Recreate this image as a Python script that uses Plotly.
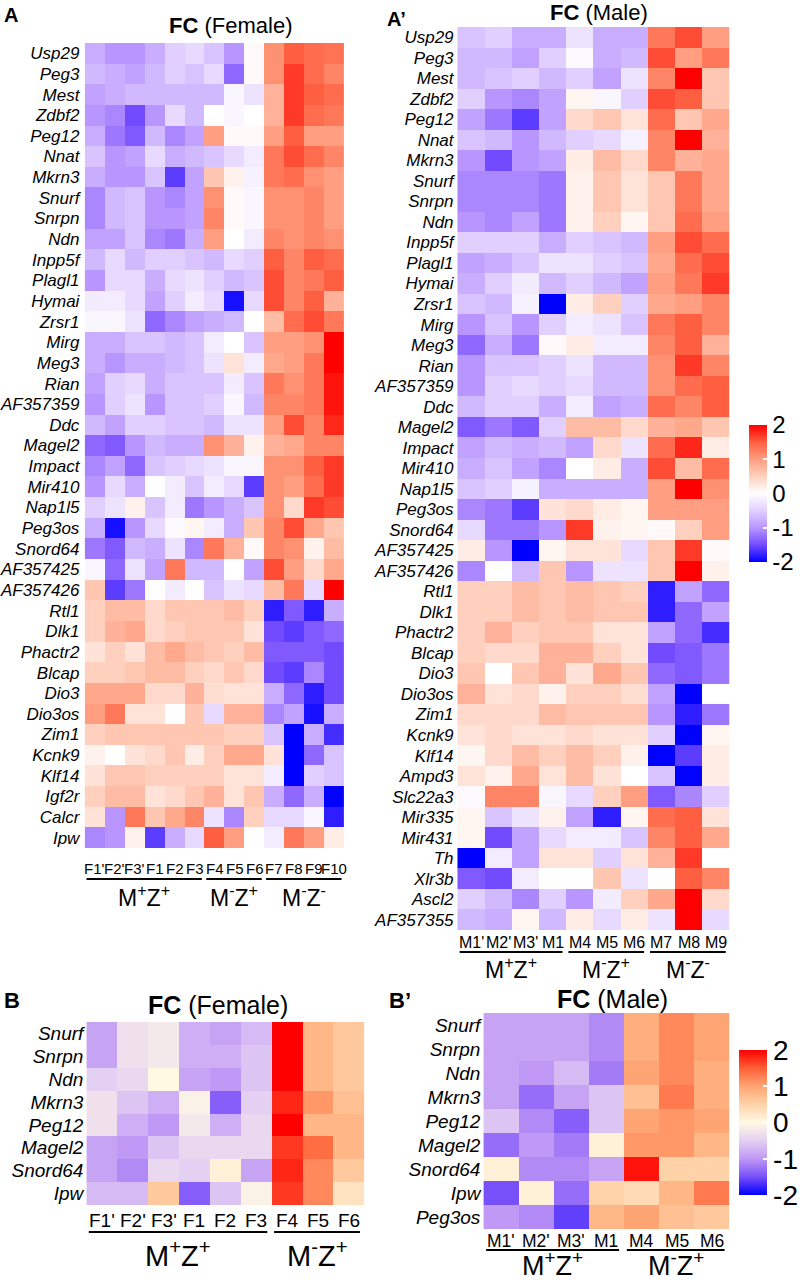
import plotly.graph_objects as go

W, H = 803, 1280
FONT = "Liberation Sans, Arial, sans-serif"

# ---- data ----
genes_a = ["Usp29", "Peg3", "Mest", "Zdbf2", "Peg12", "Nnat", "Mkrn3", "Snurf", "Snrpn", "Ndn",
           "Inpp5f", "Plagl1", "Hymai", "Zrsr1", "Mirg", "Meg3", "Rian", "AF357359", "Ddc",
           "Magel2", "Impact", "Mir410", "Nap1l5", "Peg3os", "Snord64", "AF357425", "AF357426",
           "Rtl1", "Dlk1", "Phactr2", "Blcap", "Dio3", "Dio3os", "Zim1", "Kcnk9", "Klf14",
           "Igf2r", "Calcr", "Ipw"]
samples_a = ["F1'", "F2'", "F3'", "F1", "F2", "F3", "F4", "F5", "F6", "F7", "F8", "F9", "F10"]
z_a = [
    [-0.8, -1.0, -1.0, -0.8, -0.5, -0.4, -0.6, -1.0, 0.05, 1.1, 1.5, 1.4, 1.35],
    [-0.7, -0.8, -0.9, -0.7, -0.5, -0.6, -0.4, -1.3, 0.05, 1.1, 1.7, 1.4, 1.2],
    [-0.9, -0.8, -0.7, -0.7, -0.7, -0.7, -0.7, -0.1, -0.3, 0.8, 1.7, 1.5, 1.4],
    [-1.0, -1.1, -1.5, -1.0, -0.4, -0.7, 0.0, -0.1, 0.0, 0.8, 1.7, 1.4, 1.3],
    [-0.8, -1.2, -1.4, -0.7, -1.1, -0.9, 1.0, 0.05, 0.05, 1.0, 1.5, 1.0, 1.0],
    [-0.6, -1.0, -0.9, -0.4, -0.8, -0.7, -0.6, -0.4, -0.2, 1.3, 1.6, 1.4, 1.2],
    [-0.8, -1.0, -1.0, -0.6, -1.6, -0.9, 0.6, 0.15, -0.15, 1.3, 1.4, 1.1, 1.0],
    [-1.1, -0.7, -0.6, -1.0, -1.1, -0.9, 1.1, 0.05, -0.1, 1.1, 1.1, 1.2, 1.0],
    [-1.1, -0.7, -0.6, -1.0, -1.0, -0.9, 1.2, 0.05, -0.1, 1.1, 1.1, 1.2, 1.0],
    [-0.9, -0.9, -0.6, -1.1, -1.2, -0.8, 1.0, 0.0, -0.2, 1.2, 1.1, 1.2, 1.1],
    [-0.7, -0.4, -0.7, -0.5, -0.5, -0.6, -0.7, -0.4, -0.5, 1.5, 1.2, 1.5, 1.4],
    [-1.0, -0.4, -0.4, -0.8, -0.4, -0.3, -0.5, -0.7, -0.6, 1.6, 1.2, 1.3, 1.5],
    [-0.2, -0.2, -0.4, -0.9, -0.5, -0.2, -0.4, -1.9, -0.4, 1.6, 1.2, 1.5, 0.8],
    [-0.1, -0.1, -0.3, -1.3, -1.1, -0.9, -0.8, -0.7, 0.0, 0.7, 1.4, 1.6, 1.3],
    [-0.8, -0.8, -0.6, -0.6, -0.7, -0.6, -0.2, 0.0, -0.6, 1.0, 1.0, 1.1, 2.0],
    [-0.8, -1.0, -0.8, -0.8, -0.7, -0.6, -0.3, 0.3, -0.2, 0.9, 1.0, 1.3, 2.0],
    [-0.9, -0.5, -0.4, -0.8, -0.6, -0.6, -0.6, -0.2, -0.6, 1.3, 1.1, 1.3, 1.9],
    [-1.0, -0.5, -0.3, -1.0, -0.6, -0.6, -0.5, -0.1, -0.7, 1.2, 1.2, 1.3, 1.9],
    [-0.7, -0.9, -0.5, -0.5, -0.6, -0.6, -0.7, -0.3, -0.3, 1.0, 1.6, 1.2, 1.8],
    [-1.3, -1.4, -1.0, -0.7, -0.8, -0.8, 1.1, 0.8, 0.15, 0.8, 0.9, 1.2, 1.2],
    [-1.1, -0.9, -1.3, -0.6, -0.5, -0.4, -0.3, -0.1, -0.1, 1.1, 1.1, 1.5, 1.7],
    [-1.0, -0.4, -0.8, 0.0, -0.2, -0.6, -0.2, -0.4, -1.6, 1.1, 1.0, 1.4, 1.7],
    [-0.5, -0.3, 0.15, -0.6, -0.2, -1.2, -1.0, -0.8, -0.6, 1.1, 0.4, 1.7, 1.6],
    [-0.8, -1.9, -1.0, -0.4, -0.05, 0.1, -0.2, -0.8, 0.6, 1.2, 1.6, 0.9, 0.6],
    [-1.2, -1.4, -0.7, -0.8, -0.3, -1.1, 1.3, 0.8, 0.05, 1.2, 1.1, 0.15, 0.7],
    [-0.1, -1.3, -0.3, -0.9, 1.3, -0.7, -0.7, 0.0, -0.9, 1.6, 1.0, 0.4, 0.9],
    [0.6, -1.6, -1.2, 0.0, -0.2, 0.0, -0.6, -0.3, -0.4, 0.7, 1.3, -0.4, 2.0],
    [0.5, 0.7, 0.7, 0.4, 0.6, 0.6, 0.6, 0.7, 0.5, -1.8, -1.4, -1.8, -0.8],
    [0.5, 0.8, 0.9, 0.4, 0.5, 0.6, 0.6, 0.6, 0.3, -1.5, -1.6, -1.4, -1.3],
    [0.3, 0.5, 0.3, 0.7, 0.9, 0.7, 0.6, 0.5, 0.7, -1.4, -1.4, -1.4, -1.5],
    [0.5, 0.5, 0.6, 0.7, 0.7, 0.5, 0.4, 0.6, 0.4, -1.5, -1.6, -1.1, -1.5],
    [0.9, 0.9, 0.9, 0.4, 0.4, 0.8, 0.35, 0.3, 0.3, -0.8, -1.3, -1.8, -1.5],
    [1.0, 1.3, 0.3, 0.3, 0.0, 0.6, -0.4, 0.8, 0.8, -1.1, -0.9, -1.9, -0.8],
    [0.5, 0.6, 0.6, 0.6, 0.6, 0.6, 0.6, 0.5, 0.5, -0.6, -2.0, -0.8, -1.7],
    [0.15, 0.0, 0.3, 0.4, 0.6, 0.2, 0.5, 0.9, 0.9, 0.3, -2.0, -1.3, -0.6],
    [0.3, 0.6, 0.6, 0.5, 0.5, 0.5, 0.5, 0.3, 0.3, -0.2, -2.0, -0.5, -0.6],
    [0.5, 0.7, 0.7, 0.3, 0.4, 0.6, 0.8, 0.3, 0.6, -0.8, -1.3, -0.8, -2.0],
    [0.3, -1.0, 1.3, 0.6, 0.9, 1.2, -0.3, -1.1, 0.5, -0.4, -0.4, -0.1, -1.8],
    [-1.1, -1.0, 0.15, -1.6, -0.8, -0.4, 1.5, 1.0, 0.0, -0.2, 1.3, 1.0, 0.2],
]
groups_a = [("M<sup>+</sup>Z<sup>+</sup>", 0, 5), ("M<sup>-</sup>Z<sup>+</sup>", 6, 8),
            ("M<sup>-</sup>Z<sup>-</sup>", 9, 12)]

genes_a2 = ["Usp29", "Peg3", "Mest", "Zdbf2", "Peg12", "Nnat", "Mkrn3", "Snurf", "Snrpn", "Ndn",
            "Inpp5f", "Plagl1", "Hymai", "Zrsr1", "Mirg", "Meg3", "Rian", "AF357359", "Ddc",
            "Magel2", "Impact", "Mir410", "Nap1l5", "Peg3os", "Snord64", "AF357425", "AF357426",
            "Rtl1", "Dlk1", "Phactr2", "Blcap", "Dio3", "Dio3os", "Zim1", "Kcnk9", "Klf14",
            "Ampd3", "Slc22a3", "Mir335", "Mir431", "Th", "Xlr3b", "Ascl2", "AF357355"]
samples_a2 = ["M1'", "M2'", "M3'", "M1", "M4", "M5", "M6", "M7", "M8", "M9"]
z_a2 = [
    [-0.6, -0.5, -0.8, -0.8, -0.3, -0.8, -0.8, 1.3, 1.6, 1.0],
    [-0.7, -0.7, -0.9, -0.5, -0.05, -0.8, -0.7, 1.6, 1.0, 1.3],
    [-0.7, -0.6, -0.5, -0.7, -0.5, -0.9, -0.3, 1.2, 2.0, 0.6],
    [-0.5, -1.0, -1.1, -0.9, 0.1, -0.1, -0.5, 1.6, 1.5, 0.6],
    [-0.9, -1.2, -1.6, -0.9, 0.4, 0.6, 0.3, 1.4, 0.6, 0.9],
    [-0.6, -0.7, -1.0, -0.7, -0.5, -0.4, -0.15, 1.2, 2.0, 0.8],
    [-1.0, -1.5, -1.0, -0.9, 0.2, 0.7, 0.4, 1.2, 0.8, 0.9],
    [-1.1, -1.1, -1.1, -1.2, 0.15, 0.6, 0.3, 0.6, 1.3, 0.9],
    [-1.1, -1.1, -1.1, -1.2, 0.15, 0.6, 0.3, 0.6, 1.3, 0.9],
    [-1.0, -1.1, -0.9, -1.2, 0.15, 0.5, 0.1, 0.6, 1.4, 1.0],
    [-0.5, -0.5, -0.5, -0.8, -0.5, -0.6, -0.7, 1.0, 1.6, 1.4],
    [-0.9, -0.8, -0.6, -0.3, -0.3, -0.5, -0.6, 0.9, 1.4, 1.6],
    [-0.8, -0.5, -0.2, -0.7, -0.5, -0.7, -0.9, 1.0, 1.3, 1.7],
    [-0.6, -0.7, -0.15, -2.0, 0.2, 0.5, -0.5, 0.9, 1.0, 1.2],
    [-1.0, -0.6, -1.0, -0.5, -0.2, -0.3, -0.6, 1.3, 1.5, 1.2],
    [-1.3, -0.8, -1.2, 0.05, 0.2, -0.2, -0.2, 1.2, 1.5, 0.8],
    [-1.0, -0.6, -0.6, -0.5, -0.3, -0.7, -0.7, 1.1, 1.7, 1.2],
    [-1.0, -0.5, -0.4, -0.5, -0.4, -0.7, -0.7, 1.1, 1.4, 1.5],
    [-0.7, -0.5, -0.5, -0.8, -0.2, -0.9, -0.8, 1.4, 1.2, 1.5],
    [-1.4, -1.2, -1.4, -0.5, 0.7, 0.7, 0.4, 0.8, 0.9, 0.6],
    [-0.9, -0.7, -0.8, -0.7, -0.9, 0.4, -0.3, 1.4, 1.8, 0.2],
    [-0.8, -0.6, -0.9, -1.1, 0.0, 0.2, -0.8, 1.6, 0.7, 1.4],
    [-0.6, -0.5, -0.15, -0.8, -0.8, -0.8, -0.8, 1.0, 2.0, 1.1],
    [-1.1, -1.2, -1.6, 0.3, 0.4, 0.2, 0.1, 1.0, 1.0, 1.0],
    [-0.4, -1.2, -1.2, -1.0, 1.7, 0.15, 0.1, 0.05, 0.5, 1.0],
    [0.2, -1.0, -2.0, 0.1, 0.3, 0.3, -0.4, 0.6, 1.7, 0.05],
    [-1.1, 0.0, -0.7, 0.6, -1.0, -0.3, -0.3, 0.6, 2.0, 0.15],
    [0.5, 0.5, 0.7, 0.6, 0.7, 0.6, 0.5, -1.8, -0.9, -1.3],
    [0.5, 0.5, 0.7, 0.6, 0.7, 0.6, 0.6, -1.8, -1.3, -0.9],
    [0.5, 0.8, 0.5, 0.6, 0.6, 0.3, 0.3, -0.9, -1.3, -1.7],
    [0.5, 0.4, 0.4, 0.8, 0.8, 0.5, 0.3, -1.5, -1.4, -1.2],
    [0.6, 0.0, 0.6, 0.8, 0.3, 0.9, 0.6, -1.3, -1.4, -1.2],
    [0.8, 0.3, 0.4, 0.15, 0.5, 0.5, 0.35, -0.9, -2.0, 0.0],
    [0.4, 0.4, 0.4, 0.7, 0.6, 0.6, 0.6, -1.0, -1.8, -1.2],
    [0.3, 0.4, 0.3, 0.3, 0.4, 0.3, 0.3, -0.5, -2.0, 0.1],
    [0.1, 0.4, 0.7, 0.5, 0.7, 0.5, 0.15, -2.0, -1.6, 0.2],
    [0.3, 0.15, 0.9, 0.3, 0.7, 0.3, 0.0, -0.6, -2.0, 0.2],
    [-0.05, 1.2, 1.2, -0.1, -0.4, 0.5, 1.0, -1.4, -1.1, -0.5],
    [0.1, -0.6, -0.3, 0.15, -0.9, -1.8, 0.1, 1.4, 1.5, 0.3],
    [0.1, -1.5, -0.9, -0.4, -0.2, -0.2, -0.6, 1.2, 1.5, 0.9],
    [-2.0, -0.2, -0.9, 0.3, 0.3, -0.5, 0.3, 0.8, 1.7, 0.0],
    [-1.4, -1.5, -0.2, 0.0, 0.0, 0.6, -0.3, 0.0, 1.5, 1.2],
    [-0.5, -0.7, -1.1, -0.5, -1.0, -0.2, 0.5, 0.9, 2.0, 0.4],
    [-0.7, -0.8, 0.1, -0.7, 0.2, -0.4, 0.2, -0.3, 2.0, -0.4],
]
groups_a2 = [("M<sup>+</sup>Z<sup>+</sup>", 0, 3), ("M<sup>-</sup>Z<sup>+</sup>", 4, 6),
             ("M<sup>-</sup>Z<sup>-</sup>", 7, 9)]

genes_b = ["Snurf", "Snrpn", "Ndn", "Mkrn3", "Peg12", "Magel2", "Snord64", "Ipw"]
samples_b = ["F1'", "F2'", "F3'", "F1", "F2", "F3", "F4", "F5", "F6"]
z_b = [
    [-0.9, -0.3, -0.2, -0.8, -0.9, -0.7, 2.0, 0.8, 0.6],
    [-0.9, -0.3, -0.2, -0.8, -0.8, -0.6, 2.0, 0.8, 0.6],
    [-0.5, -0.4, 0.0, -0.9, -1.0, -0.6, 2.0, 0.8, 0.6],
    [-0.3, -0.6, -0.8, -0.1, -1.4, -0.5, 1.8, 1.1, 0.7],
    [-0.3, -0.8, -1.0, -0.2, -0.8, -0.4, 2.0, 0.8, 0.8],
    [-0.9, -1.0, -0.6, -0.4, -0.4, -0.4, 1.7, 1.4, 0.8],
    [-0.9, -1.1, -0.4, -0.5, 0.1, -0.9, 1.8, 1.2, 0.6],
    [-0.7, -0.7, 0.6, -1.4, -0.6, -0.1, 1.7, 1.2, 0.3],
]
groups_b = [("M<sup>+</sup>Z<sup>+</sup>", 0, 5), ("M<sup>-</sup>Z<sup>+</sup>", 6, 8)]

genes_b2 = ["Snurf", "Snrpn", "Ndn", "Mkrn3", "Peg12", "Magel2", "Snord64", "Ipw", "Peg3os"]
samples_b2 = ["M1'", "M2'", "M3'", "M1", "M4", "M5", "M6"]
z_b2 = [
    [-0.9, -0.9, -0.9, -1.1, 0.9, 1.2, 1.0],
    [-0.9, -0.9, -0.9, -1.1, 0.9, 1.2, 1.0],
    [-0.9, -1.0, -0.7, -1.2, 1.0, 1.2, 0.9],
    [-0.9, -1.3, -0.9, -0.6, 0.7, 1.3, 0.9],
    [-0.6, -1.1, -1.4, -0.6, 1.0, 1.1, 1.0],
    [-1.3, -1.0, -1.2, 0.1, 1.1, 1.1, 0.8],
    [0.1, -1.1, -1.1, -0.9, 1.9, 0.5, 0.5],
    [-1.5, 0.1, -1.3, 0.5, 0.4, 0.8, 1.3],
    [-1.0, -1.1, -1.6, 0.8, 1.0, 0.7, 0.6],
]
groups_b2 = [("M<sup>+</sup>Z<sup>+</sup>", 0, 3), ("M<sup>-</sup>Z<sup>+</sup>", 4, 6)]

# ---- colour scales ----
cs_white = [[0, "rgb(0,0,255)"], [0.125, "rgb(115,75,255)"], [0.25, "rgb(185,150,255)"],
            [0.375, "rgb(225,208,255)"], [0.5, "rgb(255,255,255)"], [0.625, "rgb(255,208,190)"],
            [0.75, "rgb(255,158,128)"], [0.875, "rgb(255,95,65)"], [1, "rgb(255,0,0)"]]
cs_cream = [[0, "rgb(0,0,255)"], [0.125, "rgb(120,80,250)"], [0.25, "rgb(192,152,245)"],
            [0.375, "rgb(228,208,242)"], [0.5, "rgb(255,249,228)"], [0.625, "rgb(255,210,168)"],
            [0.75, "rgb(255,165,115)"], [0.875, "rgb(255,95,55)"], [1, "rgb(255,0,0)"]]


def px(x):
    return x / W


def py(y):
    return 1 - y / H


fig = go.Figure()

panels = [
    dict(ax="", genes=genes_a, samples=samples_a, z=z_a, groups=groups_a, cs=cs_white,
         box=(83, 352, 43, 848), rowfont=17, colfont=15, grpfont=23,
         col_y=868, line_y=879, grp_y=896,
         title_x=232, title_y=25, title_size=22, letter="A", letter_x=2, letter_y=15, letter_size=20,
         cbar=None),
    dict(ax="2", genes=genes_a2, samples=samples_a2, z=z_a2, groups=groups_a2, cs=cs_white,
         box=(460, 735, 27, 930), rowfont=17, colfont=16, grpfont=23,
         col_y=942, line_y=952, grp_y=968,
         title_x=604, title_y=13, title_size=22, letter="A’", letter_x=388, letter_y=19, letter_size=20,
         cbar=dict(x=755, y0=425, y1=562, thick=18, size=24)),
    dict(ax="3", genes=genes_b, samples=samples_b, z=z_b, groups=groups_b, cs=cs_cream,
         box=(87, 367, 1022, 1205), rowfont=19, colfont=19, grpfont=29,
         col_y=1220, line_y=1232, grp_y=1254,
         title_x=220, title_y=1005, title_size=25, letter="B", letter_x=2, letter_y=1000, letter_size=22,
         cbar=None),
    dict(ax="4", genes=genes_b2, samples=samples_b2, z=z_b2, groups=groups_b2, cs=cs_cream,
         box=(487, 735, 1013, 1229), rowfont=19, colfont=17.5, grpfont=27,
         col_y=1241, line_y=1250, grp_y=1264,
         title_x=617, title_y=999, title_size=25, letter="B’", letter_x=390, letter_y=1000, letter_size=22,
         cbar=dict(x=745, y0=1050, y1=1195, thick=28, size=28)),
]

shapes = []
annotations = []
layout = {}

for p in panels:
    xa, ya = "x" + p["ax"], "y" + p["ax"]
    x0, x1, y0, y1 = p["box"]
    hm = dict(z=p["z"], x=p["samples"], y=p["genes"], xaxis=xa, yaxis=ya,
              colorscale=p["cs"], zmin=-2, zmax=2, hoverongaps=False)
    if p["cbar"]:
        c = p["cbar"]
        hm["colorbar"] = dict(
            x=px(c["x"]), xanchor="left", y=py((c["y0"] + c["y1"]) / 2), yanchor="middle",
            len=c["y1"] - c["y0"], lenmode="pixels", thickness=c["thick"], thicknessmode="pixels",
            xpad=0, ypad=0, outlinewidth=0, tickvals=[-2, -1, 0, 1, 2],
            ticktext=["-2", "-1", "0", "1", "2"], ticks="inside", ticklen=4, tickcolor="white",
            tickwidth=1.5, tickfont=dict(size=c["size"], family=FONT, color="black"))
        hm["showscale"] = True
    else:
        hm["showscale"] = False
    fig.add_trace(go.Heatmap(**hm))

    layout["xaxis" + p["ax"]] = dict(
        domain=[px(x0), px(x1)], anchor=ya, showticklabels=False, showgrid=False,
        zeroline=False, ticks="", showline=False, type="category")
    layout["yaxis" + p["ax"]] = dict(
        domain=[py(y1), py(y0)], anchor=xa, autorange="reversed", type="category",
        tickmode="array", tickvals=p["genes"], ticktext=["<i>%s</i>" % g for g in p["genes"]],
        tickfont=dict(size=p["rowfont"], family=FONT, color="black"), showgrid=False,
        zeroline=False, ticks="", showline=False, ticklabelstandoff=2)

    for s in p["samples"]:
        annotations.append(dict(x=s, y=py(p["col_y"]), xref=xa, yref="paper", text=s,
                                showarrow=False, yanchor="middle", xanchor="center",
                                font=dict(size=p["colfont"], family=FONT, color="black")))
    for label, i0, i1 in p["groups"]:
        shapes.append(dict(type="line", xref=xa, yref="paper", x0=i0 - 0.42, x1=i1 + 0.36,
                           y0=py(p["line_y"]), y1=py(p["line_y"]),
                           line=dict(color="black", width=2)))
        annotations.append(dict(x=(i0 + i1) / 2 - 0.03, y=py(p["grp_y"]), xref=xa, yref="paper",
                                text=label, showarrow=False, yanchor="middle", xanchor="center",
                                font=dict(size=p["grpfont"], family=FONT, color="black")))

    annotations.append(dict(x=px(p["title_x"]), y=py(p["title_y"]), xref="paper", yref="paper",
                            text="<b>FC</b> " + ("(Female)" if "F1" in p["samples"] else "(Male)"),
                            showarrow=False, xanchor="center", yanchor="middle",
                            font=dict(size=p["title_size"], family=FONT, color="black")))
    annotations.append(dict(x=px(p["letter_x"]), y=py(p["letter_y"]), xref="paper", yref="paper",
                            text="<b>%s</b>" % p["letter"], showarrow=False, xanchor="left",
                            yanchor="middle",
                            font=dict(size=p["letter_size"], family=FONT, color="black")))

fig.update_layout(width=W, height=H, margin=dict(l=0, r=0, t=0, b=0),
                  paper_bgcolor="white", plot_bgcolor="white",
                  font=dict(family=FONT, color="black"),
                  shapes=shapes, annotations=annotations, **layout)

# drop the default page margin so the figure sits at the top-left corner
fig.write_html("out.html", config={"displayModeBar": False},
               post_script="document.body.style.margin='0';document.body.style.overflow='hidden';")
